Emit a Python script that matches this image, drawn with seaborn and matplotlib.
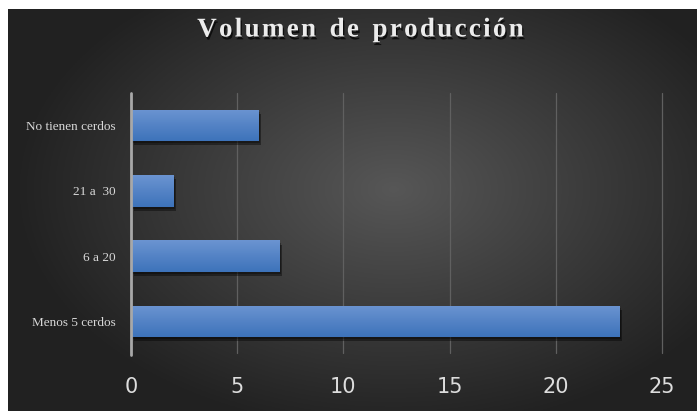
import numpy as np
import pandas as pd
import seaborn as sns
import matplotlib.pyplot as plt
import matplotlib.patheffects as pe

categorias = ['No tienen cerdos', '21 a  30', '6 a 20', 'Menos 5 cerdos']
cantidad = [6, 2, 7, 23]
x_ticks = [0, 5, 10, 15, 20, 25]

df = pd.DataFrame({'categoria': categorias, 'cantidad': cantidad})

sns.set_style('dark')
plt.rcParams['font.family'] = ['Liberation Serif', 'DejaVu Serif']

fig = plt.figure(figsize=(6.97, 4.11), dpi=100)
fig.patch.set_facecolor('white')

# radial gradient background (leaves a thin white border top/left)
bg = fig.add_axes([8 / 697, 0, 1 - 8 / 697, 1 - 9 / 411])
gx, gy = np.meshgrid(np.linspace(-1, 1, 400), np.linspace(-1, 1, 240))
r = np.sqrt(((gx - 0.12) / 1.0) ** 2 + ((gy + 0.1) / 1.1) ** 2)
shade = np.clip(0.34 - 0.19 * r, 0.13, 0.34)
bg.imshow(np.dstack([shade] * 3), aspect='auto', extent=[0, 1, 0, 1])
bg.set_axis_off()

ax = fig.add_axes([131 / 697, 1 - 352 / 411, 531 / 697, 259 / 411])
ax.patch.set_alpha(0)

sns.barplot(data=df, x='cantidad', y='categoria', orient='h',
            color='#4a7fc4', width=0.48, ax=ax, saturation=1, linewidth=0)

# vertical gradient on each bar + soft drop shadow
grad = np.linspace(0, 1, 64).reshape(-1, 1)
top = np.array([0.42, 0.58, 0.82])
bot = np.array([0.24, 0.45, 0.73])
grad_rgb = top + (bot - top) * grad[..., None]
for p in ax.patches:
    p.set_edgecolor('none')
    p.set_path_effects([pe.SimplePatchShadow(offset=(2, -3), shadow_rgbFace='black', alpha=0.4),
                        pe.SimplePatchShadow(offset=(1, -1.5), shadow_rgbFace='black', alpha=0.3),
                        pe.Normal()])
    x0, y0 = p.get_x(), p.get_y()
    w, h = p.get_width(), p.get_height()
    im = ax.imshow(grad_rgb, extent=[x0, x0 + w, y0 + h, y0], aspect='auto', zorder=p.get_zorder() + 0.1)
    im.set_clip_path(p)

ax.set_xlim(0, 25)
ax.set_ylim(3.47, -0.5)
ax.set_xticks(x_ticks)
ax.set_xticklabels([str(t) for t in x_ticks], family=['Liberation Sans Narrow', 'DejaVu Sans'],
                   fontsize=15, color='#dddddd')
for lbl in ax.get_yticklabels():
    lbl.set_fontsize(9.5)
    lbl.set_color('#d8d8d8')
ax.tick_params(axis='x', length=0, pad=18)
ax.tick_params(axis='y', length=0, pad=11)
ax.set_xlabel('')
ax.set_ylabel('')
for s in ax.spines.values():
    s.set_visible(False)

ax.grid(False)
for t in x_ticks[1:]:
    ax.axvline(t, ymin=-0.005, ymax=1, color='#606060', lw=0.9, zorder=0.5, clip_on=False)
ax.axvline(0, ymin=-0.01, ymax=1, color='#a8a8a8', lw=2, zorder=3, clip_on=False)

titulo = '\u200a'.join('Volumen de producción').replace('\u200a \u200a', '  ')
fig.text(0.517, 0.927, titulo,
         ha='center', va='center', fontsize=19.5, fontweight='bold', color='#ececec',
         path_effects=[pe.withSimplePatchShadow(offset=(1, -2), shadow_rgbFace='black', alpha=0.7)])

fig.savefig('out.png', dpi=100, facecolor=fig.get_facecolor())
